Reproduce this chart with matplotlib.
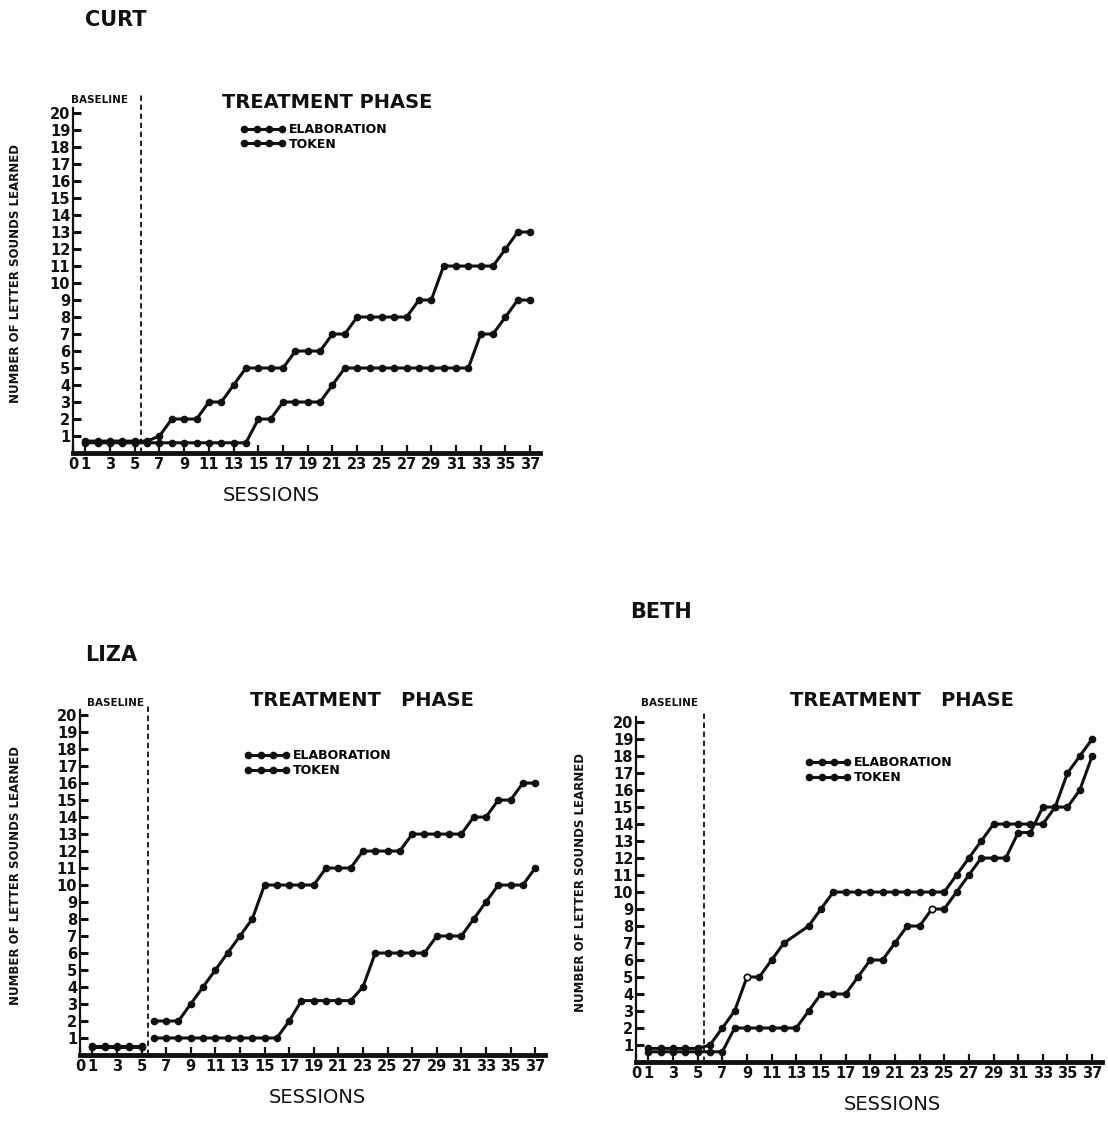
import matplotlib
matplotlib.use("Agg")
import matplotlib.pyplot as plt

W, H = 1108, 1132

# --- data (sessions 1..37) ---
sessions = list(range(1, 38))
xtick_vals = [0, 1, 3, 5, 7, 9, 11, 13, 15, 17, 19, 21, 23, 25, 27, 29, 31, 33, 35, 37]
ytick_vals = list(range(1, 21))

curt_elab = [0.7, 0.7, 0.7, 0.7, 0.7, 0.7, 1, 2, 2, 2, 3, 3, 4, 5, 5, 5, 5,
             6, 6, 6, 7, 7, 8, 8, 8, 8, 8, 9, 9, 11, 11, 11, 11, 11, 12, 13, 13]
curt_token = [0.6, 0.6, 0.6, 0.6, 0.6, 0.6, 0.6, 0.6, 0.6, 0.6, 0.6, 0.6, 0.6, 0.6,
              2, 2, 3, 3, 3, 3, 4, 5, 5, 5, 5, 5, 5, 5, 5, 5, 5, 5, 7, 7, 8, 9, 9]

liza_base_x = [1, 2, 3, 4, 5]
liza_base_elab = [0.55, 0.55, 0.55, 0.55, 0.55]
liza_base_token = [0.45, 0.45, 0.45, 0.45, 0.45]
liza_treat_x = list(range(6, 38))
liza_elab = [2, 2, 2, 3, 4, 5, 6, 7, 8, 10, 10, 10, 10, 10, 11, 11, 11,
             12, 12, 12, 12, 13, 13, 13, 13, 13, 14, 14, 15, 15, 16, 16]
liza_token = [1, 1, 1, 1, 1, 1, 1, 1, 1, 1, 1, 2, 3.2, 3.2, 3.2, 3.2, 3.2,
              4, 6, 6, 6, 6, 6, 7, 7, 7, 8, 9, 10, 10, 10, 11]

beth_elab_x = [1, 2, 3, 4, 5, 6, 7, 8, 9, 10, 11, 12, 14, 15, 16, 17, 18, 19,
               20, 21, 22, 23, 24, 25, 26, 27, 28, 29, 30, 31, 32, 33, 34, 35, 36, 37]
beth_elab = [0.8, 0.8, 0.8, 0.8, 0.8, 1, 2, 3, 5, 5, 6, 7, 8, 9, 10, 10, 10, 10,
             10, 10, 10, 10, 10, 10, 11, 12, 13, 14, 14, 14, 14, 14, 15, 17, 18, 19]
beth_token = [0.6, 0.6, 0.6, 0.6, 0.6, 0.6, 0.6, 2, 2, 2, 2, 2, 2, 3, 4, 4, 4, 5,
              6, 6, 7, 8, 8, 9, 9, 10, 11, 12, 12, 12, 13.5, 13.5, 15, 15, 15, 16, 18]
beth_open_elab = (9, 5)
beth_open_token = (24, 9)

INK = "#111111"
plt.rcParams["font.family"] = "DejaVu Sans"


def px_rect(left, right, bottom, top):
    return [left / W, 1 - bottom / H, (right - left) / W, (bottom - top) / H]


def fig_text(fig, x, y, s, size, **kw):
    fig.text(x / W, 1 - y / H, s, fontsize=size, color=INK, fontweight="bold",
             ha=kw.pop("ha", "center"), va=kw.pop("va", "center"), **kw)


def setup_axes(ax, xlabel_x, ylabel_x, divider_top):
    ax.set_xlim(0, 37.8)
    ax.set_ylim(0, 20.3)
    for side in ("top", "right"):
        ax.spines[side].set_visible(False)
    ax.spines["left"].set_linewidth(1.6)
    ax.spines["bottom"].set_linewidth(3.5)
    ax.spines["left"].set_color(INK)
    ax.spines["bottom"].set_color(INK)
    ax.set_xticks(xtick_vals)
    ax.set_xticklabels([str(v) for v in xtick_vals], fontsize=10.5,
                       fontweight="bold")
    ax.set_yticks(ytick_vals)
    ax.set_yticklabels([str(v) for v in ytick_vals], fontsize=10.5,
                       fontweight="bold")
    ax.tick_params(axis="x", direction="in", length=6, width=1.6, pad=3,
                   colors=INK)
    ax.tick_params(axis="y", direction="in", length=6, width=2.2, pad=2,
                   colors=INK)
    ax.set_xlabel("SESSIONS", fontsize=14, color=INK, labelpad=4)
    ax.xaxis.set_label_coords(xlabel_x, -0.095)
    ax.set_ylabel("NUMBER OF LETTER SOUNDS LEARNED", fontsize=8.5,
                  fontweight="bold", color=INK)
    ax.yaxis.set_label_coords(ylabel_x, 0.52)
    # baseline / treatment divider, runs up past the top of the axis
    ax.axvline(5.5, ymin=0, ymax=divider_top, color=INK, lw=1.3,
               ls=(0, (3, 2)), clip_on=False)


def add_legend(ax, x, y):
    ax.legend(loc="upper left", bbox_to_anchor=(x, y), frameon=False,
              handlelength=3.6, handletextpad=0.3, labelspacing=0.15,
              borderpad=0, numpoints=4, prop={"weight": "bold", "size": 9})


line_kw = dict(color=INK, lw=2.2, marker="o", ms=4.5, mfc=INK, mec=INK)

fig = plt.figure(figsize=(W / 100, H / 100), dpi=100)

# ---------------- CURT ----------------
ax1 = fig.add_axes(px_rect(73, 540, 453, 108))
setup_axes(ax1, 0.424, -0.109, 1.04)
ax1.plot(sessions, curt_elab, label="ELABORATION", **line_kw)
ax1.plot(sessions, curt_token, label="TOKEN", **line_kw)
add_legend(ax1, 0.345, 0.975)
fig_text(fig, 85, 20, "CURT", 15, ha="left")
fig_text(fig, 99, 100, "BASELINE", 7.5)
fig_text(fig, 327, 103, "TREATMENT PHASE", 14)

# ---------------- LIZA ----------------
ax2 = fig.add_axes(px_rect(80, 545, 1055, 710))
setup_axes(ax2, 0.51, -0.125, 1.02)
ax2.plot(liza_base_x, liza_base_elab, **line_kw)
ax2.plot(liza_base_x, liza_base_token, **line_kw)
ax2.plot(liza_treat_x, liza_elab, label="ELABORATION", **line_kw)
ax2.plot(liza_treat_x, liza_token, label="TOKEN", **line_kw)
add_legend(ax2, 0.34, 0.905)
fig_text(fig, 85, 655, "LIZA", 15, ha="left")
fig_text(fig, 115, 703, "BASELINE", 7.5)
fig_text(fig, 362, 700, "TREATMENT   PHASE", 14)

# ---------------- BETH ----------------
ax3 = fig.add_axes(px_rect(636, 1102, 1062, 717))
setup_axes(ax3, 0.55, -0.105, 1.02)
ax3.plot(beth_elab_x, beth_elab, label="ELABORATION", **line_kw)
ax3.plot(sessions, beth_token, label="TOKEN", **line_kw)
ax3.plot([beth_open_elab[0]], [beth_open_elab[1]], "o", ms=4.5, mfc="white",
         mec=INK, mew=1.2, zorder=5)
ax3.plot([beth_open_token[0]], [beth_open_token[1]], "o", ms=4.5, mfc="white",
         mec=INK, mew=1.2, zorder=5)
add_legend(ax3, 0.35, 0.905)
fig_text(fig, 630, 612, "BETH", 15, ha="left")
fig_text(fig, 670, 703, "BASELINE", 7.5)
fig_text(fig, 902, 700, "TREATMENT   PHASE", 14)

fig.savefig("out.png", dpi=100)
plt.close(fig)
